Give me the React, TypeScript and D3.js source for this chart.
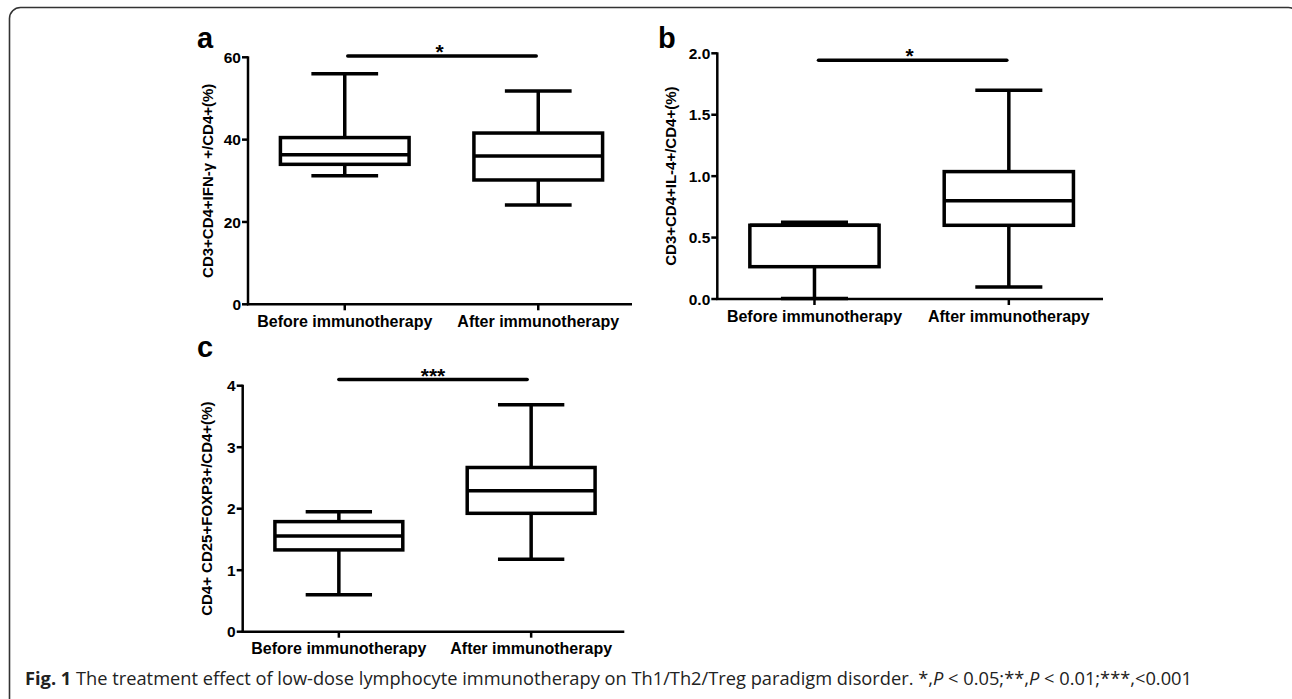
import React from "react";
import * as d3 from "d3";

const categories = ["Before immunotherapy", "After immunotherapy"];

// five-number summaries: [min, q1, median, q3, max]
const ifnBefore = [31.2, 34.0, 36.3, 40.5, 56.0];
const ifnAfter = [24.1, 30.2, 36.0, 41.6, 51.8];
const il4Before = [0.005, 0.263, 0.6, 0.6, 0.625];
const il4After = [0.098, 0.6, 0.8, 1.037, 1.7];
const tregBefore = [0.6, 1.33, 1.556, 1.79, 1.95];
const tregAfter = [1.18, 1.925, 2.29, 2.67, 3.69];

const ticksA = [0, 20, 40, 60];
const ticksB = [0, 0.5, 1.0, 1.5, 2.0];
const ticksC = [0, 1, 2, 3, 4];

const sigA = { value: 60.3, label: "*" };
const sigB = { value: 1.944, label: "*" };
const sigC = { value: 4.1, label: "***" };

const caption = {
  bold: "Fig. 1",
  text: " The treatment effect of low-dose lymphocyte immunotherapy on Th1/Th2/Treg paradigm disorder. *,",
};

const FONT = "'Liberation Sans', Arial, sans-serif";

type PanelSpec = {
  letter: string;
  letterX: number;
  letterY: number;
  ylabel: string;
  ylabelX: number;
  domain: [number, number];
  ticks: number[];
  fmt: (v: number) => string;
  left: number;
  right: number;
  top: number;
  bottom: number;
  stats: number[][];
  sig: { value: number; label: string };
  sigInset: [number, number];
};

const panels: PanelSpec[] = [
  {
    letter: "a",
    letterX: 197,
    letterY: 48,
    ylabel: "CD3+CD4+IFN-γ +/CD4+(%)",
    ylabelX: 207,
    domain: [0, 60],
    ticks: ticksA,
    fmt: d3.format("d"),
    left: 248,
    right: 635,
    top: 57.3,
    bottom: 304.3,
    stats: [ifnBefore, ifnAfter],
    sig: sigA,
    sigInset: [3, -2],
  },
  {
    letter: "b",
    letterX: 658,
    letterY: 48,
    ylabel: "CD3+CD4+IL-4+/CD4+(%)",
    ylabelX: 670,
    domain: [0, 2],
    ticks: ticksB,
    fmt: d3.format(".1f"),
    left: 717.3,
    right: 1106,
    top: 53.3,
    bottom: 299,
    stats: [il4Before, il4After],
    sig: sigB,
    sigInset: [4, -2],
  },
  {
    letter: "c",
    letterX: 197,
    letterY: 357,
    ylabel: "CD4+ CD25+FOXP3+/CD4+(%)",
    ylabelX: 206,
    domain: [0, 4],
    ticks: ticksC,
    fmt: d3.format("d"),
    left: 242.7,
    right: 627.3,
    top: 385.7,
    bottom: 631.7,
    stats: [tregBefore, tregAfter],
    sig: sigC,
    sigInset: [0, -4],
  },
];

function Panel({ p }: { p: PanelSpec }) {
  const y = d3.scaleLinear().domain(p.domain).range([p.bottom, p.top]);
  const x = d3.scalePoint<string>().domain(categories).range([p.left, p.right]).padding(0.5);
  const step = x.step();
  const boxW = step * 0.665;
  const capW = step * 0.345;
  const sw = 3.5;
  const x1 = x(categories[0])!;
  const x2 = x(categories[1])!;
  const sy = y(p.sig.value);
  return (
    <g>
      <text x={p.letterX} y={p.letterY} fontFamily={FONT} fontWeight="bold" fontSize={29}>
        {p.letter}
      </text>
      {/* y axis */}
      <line x1={p.left} x2={p.left} y1={y(p.domain[1]) - 1} y2={p.bottom + 1} stroke="#000" strokeWidth={2.5} />
      {p.ticks.map((t) => (
        <g key={t}>
          <line x1={p.left - 6} x2={p.left} y1={y(t)} y2={y(t)} stroke="#000" strokeWidth={2.5} />
          <text
            x={p.left - 7}
            y={y(t)}
            dy="0.36em"
            textAnchor="end"
            fontFamily={FONT}
            fontWeight="bold"
            fontSize={15.5}
          >
            {p.fmt(t)}
          </text>
        </g>
      ))}
      {/* x axis */}
      <line x1={p.left - 1} x2={p.right - 3} y1={p.bottom} y2={p.bottom} stroke="#000" strokeWidth={2.5} />
      {categories.map((c) => (
        <g key={c}>
          <line x1={x(c)} x2={x(c)} y1={p.bottom} y2={p.bottom + 6} stroke="#000" strokeWidth={2.5} />
          <text
            x={x(c)}
            y={p.bottom + 22.5}
            textAnchor="middle"
            fontFamily={FONT}
            fontWeight="bold"
            fontSize={16}
          >
            {c}
          </text>
        </g>
      ))}
      {/* y label */}
      <text
        transform={`translate(${p.ylabelX},${(p.top + p.bottom) / 2}) rotate(-90)`}
        textAnchor="middle"
        dominantBaseline="central"
        fontFamily={FONT}
        fontWeight="bold"
        fontSize={15}
      >
        {p.ylabel}
      </text>
      {/* boxes */}
      {categories.map((c, i) => {
        const [mn, q1, md, q3, mx] = p.stats[i];
        const cx = x(c)!;
        return (
          <g key={c} stroke="#000" strokeWidth={sw} fill="none">
            <line x1={cx} x2={cx} y1={y(q3)} y2={y(mx)} />
            <line x1={cx} x2={cx} y1={y(q1)} y2={y(mn)} />
            <line x1={cx - capW / 2} x2={cx + capW / 2} y1={y(mx)} y2={y(mx)} />
            <line x1={cx - capW / 2} x2={cx + capW / 2} y1={y(mn)} y2={y(mn)} />
            <rect x={cx - boxW / 2} y={y(q3)} width={boxW} height={y(q1) - y(q3)} fill="#fff" />
            <line x1={cx - boxW / 2} x2={cx + boxW / 2} y1={y(md)} y2={y(md)} />
          </g>
        );
      })}
      {/* significance */}
      <line
        x1={x1 + p.sigInset[0]}
        x2={x2 + p.sigInset[1]}
        y1={sy}
        y2={sy}
        stroke="#000"
        strokeWidth={sw}
        strokeLinecap="round"
      />
      <text
        x={(x1 + x2) / 2 - 2}
        y={sy + 3}
        textAnchor="middle"
        fontFamily={FONT}
        fontWeight="bold"
        fontSize={21}
      >
        {p.sig.label}
      </text>
    </g>
  );
}

export default function App() {
  return (
    <svg
      width={1292}
      height={699}
      style={{ position: "absolute", left: 0, top: 0, background: "#fff" }}
    >
      <rect x={0} y={0} width={1292} height={699} fill="#fff" />
      <rect x={9.5} y={7.5} width={1290} height={720} rx={11} fill="none" stroke="#333" strokeWidth={1.6} />
      {panels.map((p) => (
        <Panel key={p.letter} p={p} />
      ))}
      <text
        x={25}
        y={685}
        fontFamily="'Open Sans', 'Noto Sans', sans-serif"
        fontSize={17.5}
        fill="#222"
        textLength={1167}
        lengthAdjust="spacingAndGlyphs"
      >
        <tspan fontWeight="bold">{caption.bold}</tspan>
        {caption.text}
        <tspan fontStyle="italic">P</tspan>
        {" < 0.05;**,"}
        <tspan fontStyle="italic">P</tspan>
        {" < 0.01;***,<0.001"}
      </text>
    </svg>
  );
}
